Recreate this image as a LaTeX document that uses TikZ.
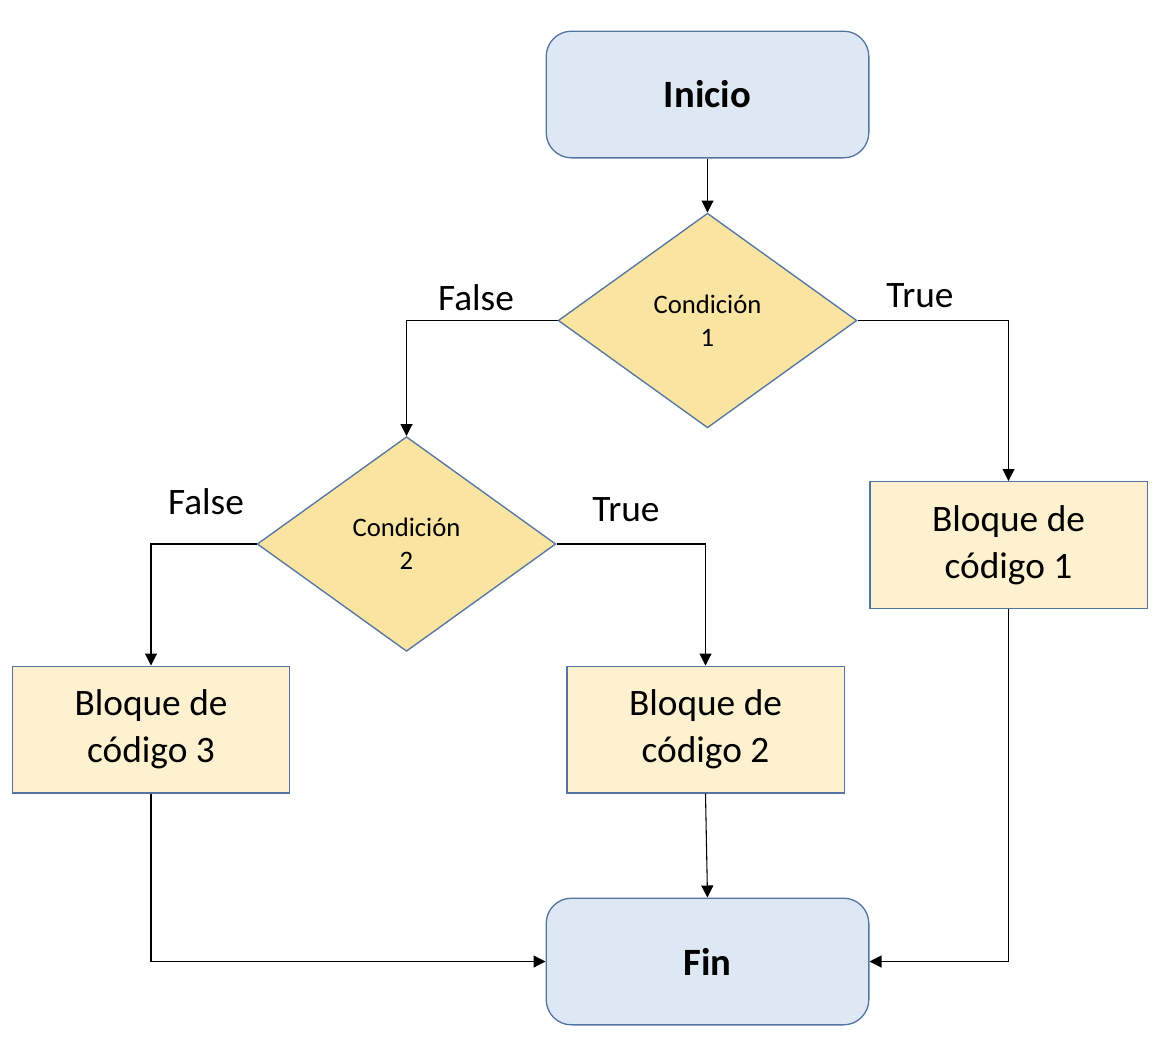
\documentclass[tikz,border=0pt]{standalone}
\usepackage{fontspec}
\setmainfont{Carlito}
\usetikzlibrary{shapes.geometric,arrows.meta}
\definecolor{azulborde}{RGB}{84,117,162}
\definecolor{azulfondo}{RGB}{222,232,245}
\definecolor{oro}{RGB}{249,228,161}
\definecolor{crema}{RGB}{253,241,207}

\begin{document}
\begin{tikzpicture}[x=0.75pt,y=0.75pt,yscale=-1,xscale=1,
  terminal/.style={draw=azulborde,fill=azulfondo,line width=1pt,rounded corners=19pt,inner sep=0pt,minimum width=242pt,minimum height=95pt,font=\fontsize{29}{35}\selectfont\bfseries},
  decision/.style={diamond,draw=azulborde,fill=oro,line width=1pt,inner sep=0pt,minimum width=224pt,minimum height=161pt,align=center,font=\fontsize{20}{25}\selectfont},
  bloque/.style={rectangle,draw=azulborde,fill=crema,line width=1pt,inner sep=0pt,minimum width=208pt,minimum height=95pt,align=center,font=\fontsize{28}{35}\selectfont},
  etiqueta/.style={font=\fontsize{28}{34}\selectfont,inner sep=0pt},
  flecha/.style={line width=0.8pt,-{Triangle[length=9pt,width=9pt]}}]
\useasboundingbox (0,0) rectangle (1164,1058);

%Shape: Rounded Rect
\node[terminal] (inicio) at (707.5,94.5) {Inicio};
%Shape: Diamond
\node[decision] (cond1) at (707.5,320.5) {Condición\\1};
\node[decision] (cond2) at (406.5,544) {Condición\\2};
%Shape: Rectangle
\node[bloque] (bloque1) at (1008.5,545) {Bloque de\\código 1};
\node[bloque] (bloque2) at (705.5,729.5) {Bloque de\\código 2};
\node[bloque] (bloque3) at (151,729.5) {Bloque de\\código 3};
%Shape: Rounded Rect
\node[terminal] (fin) at (707.5,961.5) {Fin};

%Text labels
\node[etiqueta] (falso1) at (476,298) {False};
\node[etiqueta] (verdad1) at (920,296) {True};
\node[etiqueta] (falso2) at (206,502) {False};
\node[etiqueta] (verdad2) at (626,510) {True};

%Straight Lines
\draw[flecha] (inicio) -- (cond1);
\draw[flecha] (cond1.west) -| (cond2.north);
\draw[flecha] (cond1.east) -| (bloque1.north);
\draw[flecha] (cond2.west) -| (bloque3.north);
\draw[flecha] (cond2.east) -| (bloque2.north);
\draw[flecha] (bloque2.south) -- (fin.north);
\draw[flecha] (bloque3.south) |- (fin.west);
\draw[flecha] (bloque1.south) |- (fin.east);

\end{tikzpicture}
\end{document}
